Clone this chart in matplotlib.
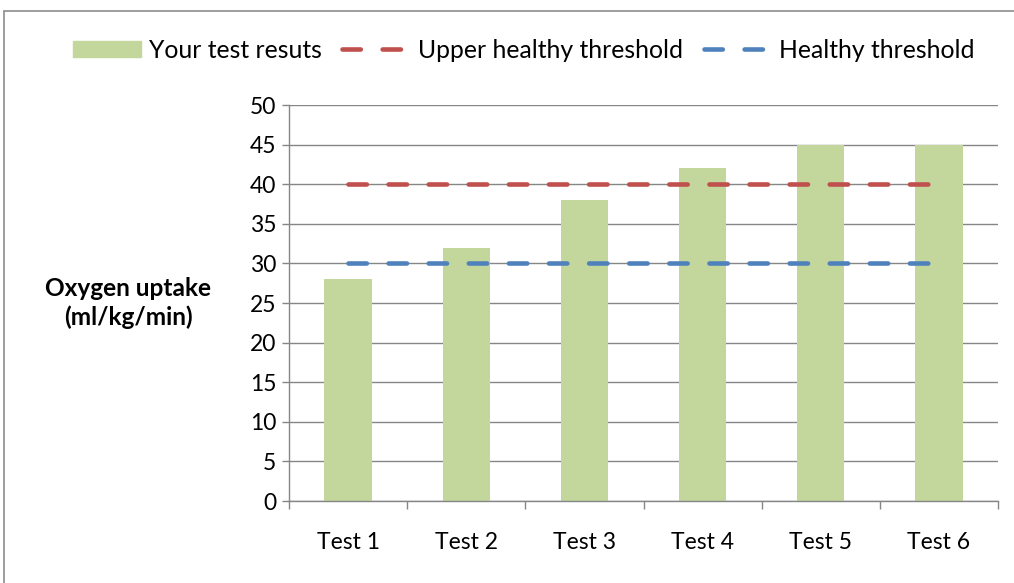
import matplotlib
matplotlib.use("Agg")
import matplotlib.pyplot as plt
from matplotlib.patches import Rectangle
from matplotlib.lines import Line2D
import numpy as np

categories = ["Test 1", "Test 2", "Test 3", "Test 4", "Test 5", "Test 6"]
results = [28, 32, 38, 42, 45, 45]
upper_threshold = [40, 40, 40, 40, 40, 40]
healthy_threshold = [30, 30, 30, 30, 30, 30]
yticks = [0, 5, 10, 15, 20, 25, 30, 35, 40, 45, 50]

plt.rcParams['font.family'] = ['Lato', 'DejaVu Sans']

fig = plt.figure(figsize=(10.14, 5.83), dpi=100)
ax = fig.add_axes([289/1014, 1-501/583, (998-289)/1014, (501-105)/583])

x = np.arange(len(categories))
green = "#C3D69B"
red = "#C0504D"
blue = "#4F81BD"
grid = "#868686"

lw = 3.3
dash = (4.0, 4.75)
ax.bar(x, results, width=0.4, color=green, zorder=2, label="Your test resuts")
ax.plot(x, upper_threshold, color=red, lw=lw, dashes=dash, dash_capstyle='round',
        zorder=3, label="Upper healthy threshold")
ax.plot(x, healthy_threshold, color=blue, lw=lw, dashes=dash, dash_capstyle='round',
        zorder=3, label="Healthy threshold")

ax.set_xlim(-0.5, len(categories) - 0.5)
ax.set_ylim(0, 50)
ax.set_yticks(yticks)
ax.set_yticklabels([str(v) for v in yticks], fontsize=16.5)
ax.yaxis.grid(True, color=grid, lw=1, zorder=0)
ax.set_axisbelow(True)

ax.set_xticks(x)
ax.set_xticklabels(categories, fontsize=16.5)
ax.tick_params(axis='x', length=0, pad=22)
ax.set_xticks(np.arange(-0.5, len(categories)), minor=True)
ax.tick_params(axis='x', which='minor', length=6, color=grid, width=1)
ax.tick_params(axis='y', length=5, color=grid, width=1, pad=4)

for s in ['top', 'right']:
    ax.spines[s].set_visible(False)
for s in ['left', 'bottom']:
    ax.spines[s].set_color(grid)
    ax.spines[s].set_linewidth(1)

fig.text(128/1014, 1-303/583, "Oxygen uptake\n(ml/kg/min)", fontsize=17.6, fontweight='bold',
         ha='center', va='center', linespacing=1.25)

handles = [Rectangle((0, 0), 1, 1, color=green),
           Line2D([0], [0], color=red, lw=lw, dashes=dash, dash_capstyle='round'),
           Line2D([0], [0], color=blue, lw=lw, dashes=dash, dash_capstyle='round')]
labels = ["Your test resuts", "Upper healthy threshold", "Healthy threshold"]
fig.legend(handles, labels, loc='center', bbox_to_anchor=(524/1014, 1-50/583), ncol=3,
           frameon=False, fontsize=17.8, handlelength=2.75, handletextpad=0.3,
           columnspacing=0.85, handleheight=0.6)

fig.patches.append(Rectangle((4/1014, -0.1), 1.2, 1-11/583+0.1, transform=fig.transFigure,
                             fill=False, edgecolor="#8c8c8c", lw=1.2))

fig.savefig("out.png", dpi=100)
